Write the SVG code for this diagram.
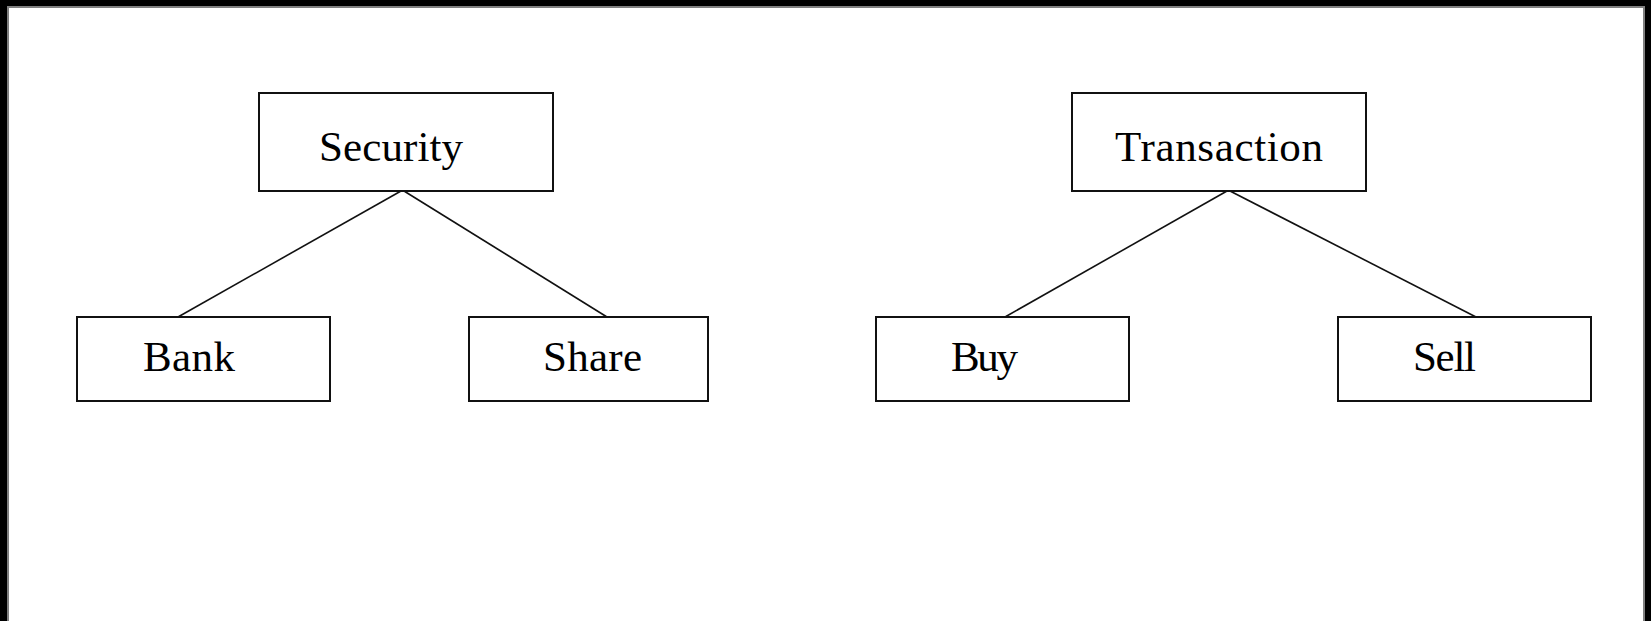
<svg xmlns="http://www.w3.org/2000/svg" width="1651" height="621" viewBox="0 0 1651 621">
<style>
.box{fill:#fff;stroke:#111;stroke-width:2}
.lbl{font-family:"Liberation Serif","Times New Roman",serif;font-size:43px;fill:#000}
.conn line{stroke:#111;stroke-width:1.6}
</style>
<g id="frame">
<rect x="0" y="0" width="1651" height="621" fill="#000"/>
<rect x="8" y="7" width="1636" height="620" fill="#fff" stroke="#808080" stroke-width="2"/>
</g>
<g id="connectors" class="conn">
<line x1="401" y1="191" x2="178" y2="317"/>
<line x1="404" y1="191" x2="607" y2="317"/>
<line x1="1227" y1="191" x2="1005" y2="317"/>
<line x1="1230" y1="191" x2="1476" y2="317"/>
</g>
<g id="node-security">
<rect class="box" x="259" y="93" width="294" height="98"/>
<text class="lbl" x="319" y="161" textLength="144">Security</text>
</g>
<g id="node-transaction">
<rect class="box" x="1072" y="93" width="294" height="98"/>
<text class="lbl" x="1115" y="161" textLength="208">Transaction</text>
</g>
<g id="node-bank">
<rect class="box" x="77" y="317" width="253" height="84"/>
<text class="lbl" x="143" y="371" textLength="92">Bank</text>
</g>
<g id="node-share">
<rect class="box" x="469" y="317" width="239" height="84"/>
<text class="lbl" x="543" y="371" textLength="99">Share</text>
</g>
<g id="node-buy">
<rect class="box" x="876" y="317" width="253" height="84"/>
<text class="lbl" x="951" y="371" textLength="67">Buy</text>
</g>
<g id="node-sell">
<rect class="box" x="1338" y="317" width="253" height="84"/>
<text class="lbl" x="1413" y="371" textLength="63">Sell</text>
</g>
</svg>
